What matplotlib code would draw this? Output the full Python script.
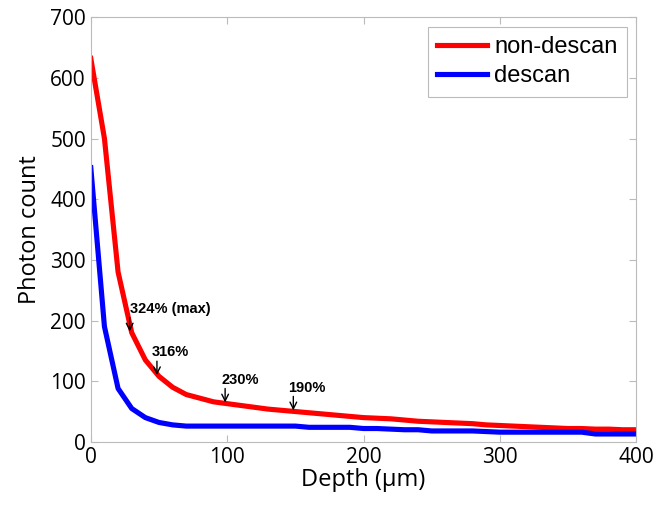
import matplotlib
matplotlib.use('Agg')
from matplotlib import pyplot as plt
import numpy as np

depth = list(range(0, 410, 10))
nondescan = [632, 500, 280, 180, 135, 108, 90, 78, 72, 66,
             63, 60, 57, 54, 52, 50, 48, 46, 44, 42,
             40, 39, 38, 36, 34, 33, 32, 31, 30, 28,
             27, 26, 25, 24, 23, 22, 22, 21, 21, 20, 20]
descan = [452, 190, 88, 55, 40, 32, 28, 26, 26, 26,
          26, 26, 26, 26, 26, 26, 24, 24, 24, 24,
          22, 22, 21, 20, 20, 18, 18, 18, 18, 17,
          16, 16, 16, 16, 16, 16, 16, 13, 13, 13, 13]

ann_x = [30, 50, 100, 150]
ann_text_x = [29, 45, 96, 145]
ann_labels = ['324% (max)', '316%', '230%', '190%']

fig = plt.figure(figsize=(6.58, 5.05), dpi=100)
ax = fig.add_axes([0.138, 0.125, 0.829, 0.841])

ax.plot(depth, nondescan, color='#ff0000', lw=3.7, label='non-descan')
ax.plot(depth, descan, color='#0000ff', lw=3.7, label='descan')

for x, tx, lab in zip(ann_x, ann_text_x, ann_labels):
    y = nondescan[depth.index(x)]
    ax.annotate('', xy=(x - 1.5, y + 2), xytext=(x - 1.5, y + 25),
                arrowprops=dict(arrowstyle='->', color='black', lw=1,
                                shrinkA=0, shrinkB=0,
                                mutation_scale=12))
    ax.text(tx, y + 28, lab, fontsize=10.5, fontweight='bold',
            family='Liberation Sans', ha='left', va='bottom')

ax.set_xlim(0, 400)
ax.set_ylim(0, 700)
ax.set_xticks([0, 100, 200, 300, 400])
ax.set_yticks(range(0, 800, 100))
ax.tick_params(direction='in', top=True, right=True, labelsize=15,
               color='#bbbbbb', length=5)
for lbl in ax.get_xticklabels() + ax.get_yticklabels():
    lbl.set_family('Open Sans')
for s in ax.spines.values():
    s.set_color('#bbbbbb')

ax.set_xlabel('Depth (\u00b5m)', fontsize=17, family='Open Sans', labelpad=0)
ax.set_ylabel('Photon count', fontsize=17, family='Open Sans', labelpad=6)

leg = ax.legend(loc='upper right', prop={'family': 'Liberation Sans', 'size': 17},
                fancybox=False, handlelength=2.1, borderpad=0.4,
                labelspacing=0.3, handletextpad=0.3, borderaxespad=0.4)
leg.get_frame().set_edgecolor('#aaaaaa')
leg.get_frame().set_linewidth(0.8)

fig.savefig('out.png', dpi=100)
